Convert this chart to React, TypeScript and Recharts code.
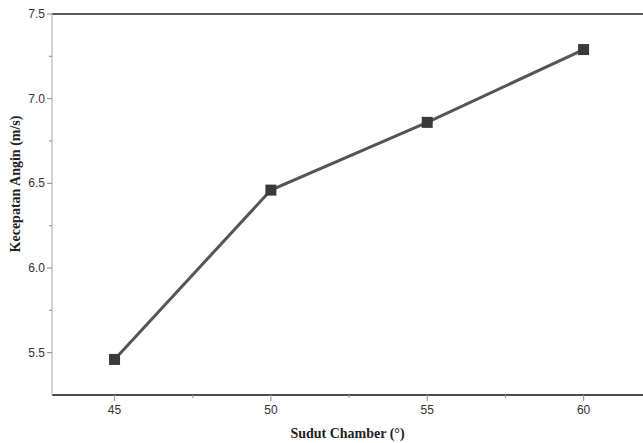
import React from "react";
import { LineChart, Line, XAxis, YAxis, ReferenceLine, Label } from "recharts";

const angles = [45, 50, 55, 60];
const windSpeed = [5.46, 6.46, 6.86, 7.29];
const xMajorTicks = [45, 50, 55, 60];
const xTicks = [45, 47.5, 50, 52.5, 55, 57.5, 60];
const yMajorTicks = [5.5, 6.0, 6.5, 7.0, 7.5];
const yTicks = [5.5, 5.75, 6.0, 6.25, 6.5, 6.75, 7.0, 7.25, 7.5];
const xTitle = "Sudut Chamber (°)";
const yTitle = "Kecepatan Angin (m/s)";

const data = angles.map((a, i) => ({ angle: a, speed: windSpeed[i] }));

const XTick = (props: any) => {
  const { x, y, payload } = props;
  const major = xMajorTicks.includes(payload.value);
  return (
    <g>
      <line x1={x} y1={y} x2={x} y2={y + (major ? 6 : 3)} stroke="#999" strokeWidth={1.2} />
      {major && (
        <text x={x} y={y + 19} textAnchor="middle" fontSize={12} fill="#333" fontFamily="Liberation Sans, Arial, sans-serif">
          {payload.value}
        </text>
      )}
    </g>
  );
};

const YTick = (props: any) => {
  const { x, y, payload } = props;
  const major = yMajorTicks.some((v) => Math.abs(v - payload.value) < 1e-6);
  return (
    <g>
      <line x1={x} y1={y} x2={x - (major ? 5 : 3)} y2={y} stroke="#999" strokeWidth={1.2} />
      {major && (
        <text x={x - 7} y={y + 4} textAnchor="end" fontSize={12} fill="#333" fontFamily="Liberation Sans, Arial, sans-serif">
          {payload.value.toFixed(1)}
        </text>
      )}
    </g>
  );
};

const Square = (props: any) => {
  const { cx, cy } = props;
  if (cx == null || cy == null) return null;
  return <rect x={cx - 5.5} y={cy - 5.5} width={11} height={11} fill="#3a3a3a" />;
};

export default function App() {
  return (
    <div style={{ position: "absolute", left: 0, top: 0, width: 643, height: 443, background: "#fff" }}>
      <LineChart width={643} height={443} data={data} margin={{ top: 14, right: 0, bottom: 0, left: 0 }}>
        <XAxis
          dataKey="angle"
          type="number"
          domain={[43, 61.9]}
          ticks={xTicks}
          interval={0}
          allowDataOverflow
          height={48}
          tickSize={0}
          tickMargin={0}
          tickLine={false}
          axisLine={{ stroke: "#111", strokeWidth: 1.3 }}
          tick={<XTick />}
        >
          <Label
            content={(p: any) => {
              const vb = p.viewBox;
              return (
                <text x={vb.x + vb.width / 2} y={438} textAnchor="middle" fontSize={14} fontWeight="bold" fill="#222" fontFamily="Liberation Serif, Times New Roman, serif">
                  {xTitle}
                </text>
              );
            }}
          />
        </XAxis>
        <YAxis
          type="number"
          domain={[5.25, 7.5]}
          ticks={yTicks}
          interval={0}
          allowDataOverflow
          width={52}
          tickSize={0}
          tickMargin={0}
          tickLine={false}
          axisLine={{ stroke: "#c4c4c4", strokeWidth: 1.5 }}
          tick={<YTick />}
        >
          <Label
            content={() => (
              <text x={20} y={184} transform="rotate(-90 20 184)" textAnchor="middle" fontSize={14} fontWeight="bold" fill="#222" fontFamily="Liberation Serif, Times New Roman, serif">
                {yTitle}
              </text>
            )}
          />
        </YAxis>
        <ReferenceLine y={7.5} stroke="#222" strokeWidth={1.3} ifOverflow="visible" />
        <Line
          dataKey="speed"
          stroke="#555"
          strokeWidth={3}
          dot={<Square />}
          activeDot={false}
          isAnimationActive={false}
        />
      </LineChart>
    </div>
  );
}
